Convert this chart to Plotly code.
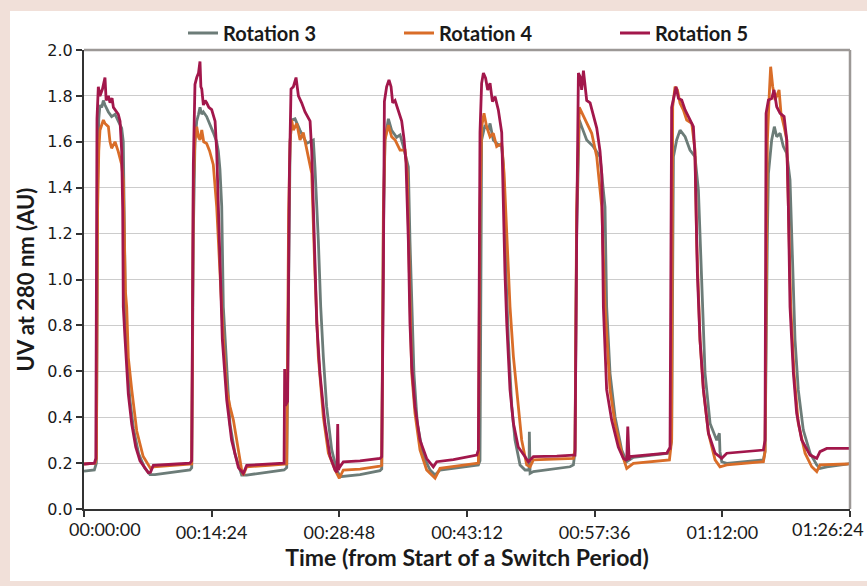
import plotly.graph_objects as go

# ---------------- data (time in seconds from start, UV in AU) ----------------
tick_values = [0, 864, 1728, 2592, 3456, 4320, 5184]
tick_labels = ["00:00:00", "00:14:24", "00:28:48", "00:43:12", "00:57:36", "01:12:00", "01:26:24"]

rot3_t = [0, 70, 84, 92, 100, 108, 120, 131, 142, 165, 187, 210, 232, 255, 266, 272, 280, 292, 310, 335, 370, 410, 447, 480, 600, 717,
          729, 740, 751, 763, 775, 785, 797, 808, 830, 850, 864, 875, 898, 909, 920, 932, 943, 966, 988, 1022, 1067, 1101, 1250, 1354,
          1372, 1385, 1395, 1405, 1428, 1462, 1507, 1552, 1563, 1586, 1602, 1620, 1642, 1676, 1710, 1733, 1868, 2003,
          2015, 2026, 2037, 2060, 2082, 2116, 2139, 2161, 2195, 2206, 2218, 2233, 2256, 2297, 2342, 2376, 2409, 2669,
          2680, 2691, 2714, 2737, 2748, 2770, 2793, 2827, 2838, 2843, 2856, 2872, 2895, 2917, 2951, 2985, 3012, 3014, 3016, 3019, 3041, 3289, 3312, 3323,
          3334, 3352, 3368, 3402, 3447, 3492, 3526, 3537, 3560, 3594, 3639, 3673, 3718, 3955, 3966,
          3977, 3989, 4011, 4034, 4068, 4101, 4135, 4158, 4180, 4203, 4237, 4282, 4300, 4304, 4316, 4350, 4598, 4609,
          4625, 4632, 4654, 4672, 4688, 4711, 4733, 4756, 4778, 4796, 4812, 4834, 4868, 4914, 4959, 4981, 5027, 5162, 5184]
rot3_v = [0.165, 0.17, 0.20, 1.40, 1.70, 1.76, 1.75, 1.78, 1.76, 1.73, 1.71, 1.72, 1.69, 1.66, 1.60, 1.30, 0.88, 0.65, 0.48, 0.35, 0.24, 0.18, 0.15, 0.15, 0.16, 0.17,
          0.18, 1.20, 1.60, 1.69, 1.72, 1.75, 1.72, 1.73, 1.71, 1.68, 1.66, 1.64, 1.60, 1.56, 1.48, 1.32, 0.88, 0.59, 0.37, 0.24, 0.148, 0.148, 0.16, 0.17,
          0.18, 1.20, 1.60, 1.695, 1.70, 1.65, 1.593, 1.608, 1.49, 1.17, 0.88, 0.66, 0.446, 0.26, 0.17, 0.141, 0.15, 0.167,
          0.175, 1.20, 1.61, 1.70, 1.65, 1.62, 1.63, 1.58, 1.49, 1.17, 0.88, 0.59, 0.37, 0.23, 0.17, 0.148, 0.17, 0.192,
          0.21, 1.608, 1.673, 1.651, 1.68, 1.608, 1.593, 1.579, 1.50, 1.317, 1.027, 0.736, 0.446, 0.30, 0.192, 0.17, 0.17, 0.337, 0.16, 0.155, 0.163, 0.184, 0.192, 0.25,
          1.20, 1.695, 1.666, 1.608, 1.579, 1.535, 1.317, 0.882, 0.591, 0.402, 0.257, 0.206, 0.225, 0.243, 0.26,
          0.30, 1.535, 1.608, 1.651, 1.622, 1.564, 1.535, 1.39, 1.027, 0.591, 0.373, 0.30, 0.33, 0.25, 0.206, 0.199, 0.214, 0.25,
          1.20, 1.463, 1.608, 1.666, 1.622, 1.637, 1.579, 1.55, 1.434, 1.027, 0.736, 0.519, 0.344, 0.243, 0.192, 0.177, 0.184, 0.196, 0.198]

rot4_t = [0, 75, 84, 92, 100, 108, 131, 142, 165, 176, 187, 210, 232, 255, 266, 280, 289, 300, 323, 357, 400, 450, 469, 600, 717,
          729, 740, 751, 763, 775, 785, 797, 810, 830, 850, 864, 875, 898, 920, 943, 966, 988, 1011, 1033, 1067, 1078, 1101, 1250, 1354,
          1372, 1385, 1395, 1405, 1417, 1440, 1462, 1484, 1507, 1530, 1541, 1563, 1586, 1620, 1654, 1699, 1728, 1755, 1868, 2003,
          2015, 2026, 2037, 2060, 2082, 2105, 2139, 2173, 2188, 2202, 2218, 2240, 2274, 2319, 2376, 2409, 2669,
          2680, 2691, 2707, 2725, 2748, 2770, 2793, 2827, 2843, 2861, 2883, 2906, 2928, 2962, 2996, 3019, 3041, 3312, 3323,
          3334, 3352, 3391, 3436, 3470, 3504, 3526, 3560, 3594, 3639, 3673, 3718, 3962,
          3977, 3984, 4000, 4016, 4034, 4056, 4079, 4113, 4135, 4146, 4169, 4192, 4226, 4271, 4304, 4350, 4598, 4609,
          4625, 4638, 4647, 4661, 4677, 4704, 4717, 4738, 4756, 4767, 4783, 4805, 4834, 4880, 4925, 4959, 4981, 5162, 5184]
rot4_v = [0.196, 0.20, 0.22, 1.30, 1.56, 1.65, 1.695, 1.68, 1.666, 1.60, 1.572, 1.60, 1.557, 1.50, 1.43, 0.95, 0.88, 0.66, 0.52, 0.34, 0.23, 0.177, 0.184, 0.19, 0.196,
          0.196, 1.40, 1.608, 1.666, 1.62, 1.608, 1.651, 1.60, 1.593, 1.56, 1.528, 1.50, 1.317, 1.027, 0.736, 0.519, 0.446, 0.388, 0.301, 0.17, 0.148, 0.184, 0.19, 0.196,
          0.196, 1.30, 1.60, 1.695, 1.651, 1.68, 1.608, 1.64, 1.564, 1.50, 1.463, 1.027, 0.664, 0.40, 0.243, 0.17, 0.134, 0.17, 0.174, 0.187,
          0.19, 1.30, 1.608, 1.673, 1.622, 1.608, 1.564, 1.564, 1.463, 1.027, 0.591, 0.417, 0.257, 0.17, 0.134, 0.177, 0.20,
          1.30, 1.666, 1.724, 1.666, 1.622, 1.637, 1.579, 1.593, 1.463, 1.172, 0.882, 0.664, 0.519, 0.301, 0.192, 0.184, 0.214, 0.221, 0.26,
          1.30, 1.75, 1.695, 1.637, 1.535, 1.317, 0.882, 0.519, 0.373, 0.243, 0.177, 0.199, 0.214,
          0.30, 1.753, 1.84, 1.826, 1.768, 1.739, 1.695, 1.68, 1.564, 1.172, 0.736, 0.519, 0.33, 0.214, 0.184, 0.192, 0.206, 0.25,
          1.608, 1.811, 1.927, 1.84, 1.782, 1.826, 1.724, 1.666, 1.608, 1.317, 0.882, 0.591, 0.373, 0.243, 0.184, 0.163, 0.192, 0.196, 0.198]

rot5_t = [0, 70, 80, 88, 97, 108, 125, 142, 150, 165, 176, 190, 199, 210, 232, 244, 255, 262, 266, 277, 289, 300, 323, 350, 379, 420, 435, 450, 469, 600, 717,
          729, 740, 751, 757, 763, 775, 785, 791, 797, 808, 820, 830, 845, 864, 875, 887, 898, 909, 920, 936, 966, 999, 1045, 1078, 1101, 1250, 1354,
          1358, 1363, 1378, 1390, 1401, 1417, 1435, 1451, 1473, 1496, 1530, 1541, 1552, 1563, 1575, 1597, 1631, 1665, 1699, 1712, 1717, 1722, 1728, 1755, 1868, 2003,
          2015, 2026, 2033, 2048, 2064, 2078, 2089, 2105, 2127, 2150, 2166, 2179, 2195, 2206, 2218, 2240, 2274, 2319, 2364, 2387, 2500, 2658, 2669,
          2680, 2691, 2703, 2718, 2732, 2748, 2764, 2782, 2804, 2827, 2838, 2849, 2861, 2883, 2906, 2939, 2985, 3007, 3041, 3200, 3312, 3323,
          3334, 3346, 3357, 3368, 3380, 3402, 3425, 3447, 3470, 3492, 3504, 3515, 3537, 3571, 3616, 3650, 3673, 3680, 3689, 3695, 3944, 3962,
          3966, 3977, 3989, 4007, 4023, 4045, 4068, 4090, 4124, 4135, 4151, 4169, 4192, 4226, 4271, 4316, 4350, 4598, 4609,
          4616, 4632, 4654, 4670, 4688, 4711, 4738, 4756, 4767, 4778, 4801, 4823, 4857, 4914, 4959, 4981, 5027, 5162, 5184]
rot5_v = [0.196, 0.20, 0.22, 1.70, 1.84, 1.80, 1.83, 1.88, 1.78, 1.80, 1.77, 1.79, 1.75, 1.74, 1.72, 1.69, 1.56, 1.30, 0.88, 0.75, 0.59, 0.50, 0.37, 0.27, 0.21, 0.17, 0.158, 0.16, 0.19, 0.195, 0.20,
          0.21, 1.50, 1.85, 1.87, 1.88, 1.90, 1.95, 1.84, 1.83, 1.76, 1.78, 1.77, 1.75, 1.74, 1.72, 1.69, 1.56, 1.32, 1.03, 0.74, 0.475, 0.30, 0.18, 0.155, 0.19, 0.195, 0.20,
          0.61, 0.45, 0.47, 1.46, 1.83, 1.84, 1.88, 1.80, 1.77, 1.73, 1.69, 1.56, 1.32, 1.03, 0.81, 0.59, 0.37, 0.23, 0.17, 0.16, 0.37, 0.17, 0.18, 0.205, 0.21, 0.22,
          0.228, 1.03, 1.775, 1.84, 1.87, 1.84, 1.77, 1.78, 1.74, 1.69, 1.61, 1.51, 1.17, 0.81, 0.62, 0.446, 0.30, 0.22, 0.184, 0.206, 0.215, 0.235, 0.257,
          1.64, 1.855, 1.90, 1.877, 1.826, 1.855, 1.775, 1.797, 1.739, 1.64, 1.317, 1.027, 0.81, 0.52, 0.373, 0.27, 0.228, 0.206, 0.228, 0.23, 0.235, 0.235,
          1.17, 1.90, 1.884, 1.826, 1.91, 1.78, 1.77, 1.72, 1.66, 1.56, 1.46, 0.88, 0.52, 0.388, 0.27, 0.221, 0.211, 0.359, 0.214, 0.228, 0.243, 0.264,
          0.264, 1.75, 1.789, 1.84, 1.789, 1.782, 1.739, 1.71, 1.666, 1.535, 1.027, 0.736, 0.519, 0.33, 0.243, 0.221, 0.243, 0.257, 0.30,
          1.724, 1.782, 1.789, 1.826, 1.753, 1.724, 1.71, 1.608, 1.317, 0.882, 0.591, 0.417, 0.301, 0.235, 0.221, 0.250, 0.264, 0.264, 0.264]

series_names = ["Rotation 3", "Rotation 4", "Rotation 5"]
series_colors = ["#6c7c78", "#d96d28", "#a2174b"]

# ---------------- figure ----------------
W, H = 867, 586
ML, MR, MT, MB = 84, 17, 50, 77
PW, PH = W - ML - MR, H - MT - MB

def px_x(p):
    return (p - ML) / PW

def px_y(p):
    return (H - MB - p) / PH

fig = go.Figure()
for name, color, t, v in zip(series_names, series_colors,
                             [rot3_t, rot4_t, rot5_t], [rot3_v, rot4_v, rot5_v]):
    fig.add_trace(go.Scatter(x=t, y=v, mode="lines", name=name,
                             line=dict(color=color, width=2.8), hoverinfo="skip"))

cond = "Lato, Roboto, sans-serif"
txt = "#1a1a1a"

# inner tick labels on the axis; the two end labels are pulled inside like the original
inner_text = [""] + tick_labels[1:-1] + [""]

annotations = [
    dict(x=tick_values[0], y=0, xref="x", yref="y", text=tick_labels[0], showarrow=False,
         xanchor="left", yanchor="top", xshift=-17, yshift=-7,
         font=dict(family=cond, size=18, color=txt)),
    dict(x=tick_values[-1], y=0, xref="x", yref="y", text=tick_labels[-1], showarrow=False,
         xanchor="right", yanchor="top", xshift=16, yshift=-7,
         font=dict(family=cond, size=18, color=txt)),
]

fig.update_layout(
    width=W, height=H, autosize=False,
    margin=dict(l=ML, r=MR, t=MT, b=MB, pad=0),
    paper_bgcolor="#f1e0d9", plot_bgcolor="white",
    showlegend=True,
    legend=dict(orientation="h", x=px_x(183), y=px_y(33), xanchor="left", yanchor="middle",
                entrywidth=171, entrywidthmode="pixels",
                font=dict(family=cond, size=20, color=txt, weight="bold"),
                bgcolor="rgba(0,0,0,0)", itemclick=False, itemdoubleclick=False),
    xaxis=dict(range=[0, 5184], tickvals=tick_values, ticktext=inner_text,
               showgrid=False, zeroline=False,
               showline=True, linecolor="#333333", linewidth=2,
               ticks="outside", ticklen=6, tickwidth=1.5, tickcolor="#333333",
               tickfont=dict(family=cond, size=18, color=txt),
               title=dict(text="Time (from Start of a Switch Period)", standoff=5,
                          font=dict(family=cond, size=23, color=txt, weight="bold"))),
    yaxis=dict(range=[0, 2.0], dtick=0.2, tick0=0, tickformat=".1f",
               showgrid=True, gridcolor="#cccccc", gridwidth=1, zeroline=False,
               showline=True, linecolor="#333333", linewidth=2,
               ticks="outside", ticklen=6, tickwidth=1.5, tickcolor="#333333",
               tickfont=dict(family="DejaVu Sans, Verdana, sans-serif", size=16, color=txt),
               title=dict(text="UV at 280 nm (AU)", standoff=7,
                          font=dict(family=cond, size=22, color=txt, weight="bold"))),
    annotations=annotations,
    shapes=[
        dict(type="rect", xref="paper", yref="paper", layer="below",
             x0=px_x(10), x1=px_x(W + 2), y0=px_y(581), y1=px_y(11),
             fillcolor="white", line=dict(width=0)),
        dict(type="line", xref="paper", yref="paper", x0=0, x1=1, y0=1, y1=1,
             line=dict(color="#9c9896", width=2.5)),
        dict(type="line", xref="paper", yref="paper", x0=1, x1=1, y0=0, y1=1,
             line=dict(color="#9c9896", width=2.5)),
    ],
)

fig.write_html("out.html")
